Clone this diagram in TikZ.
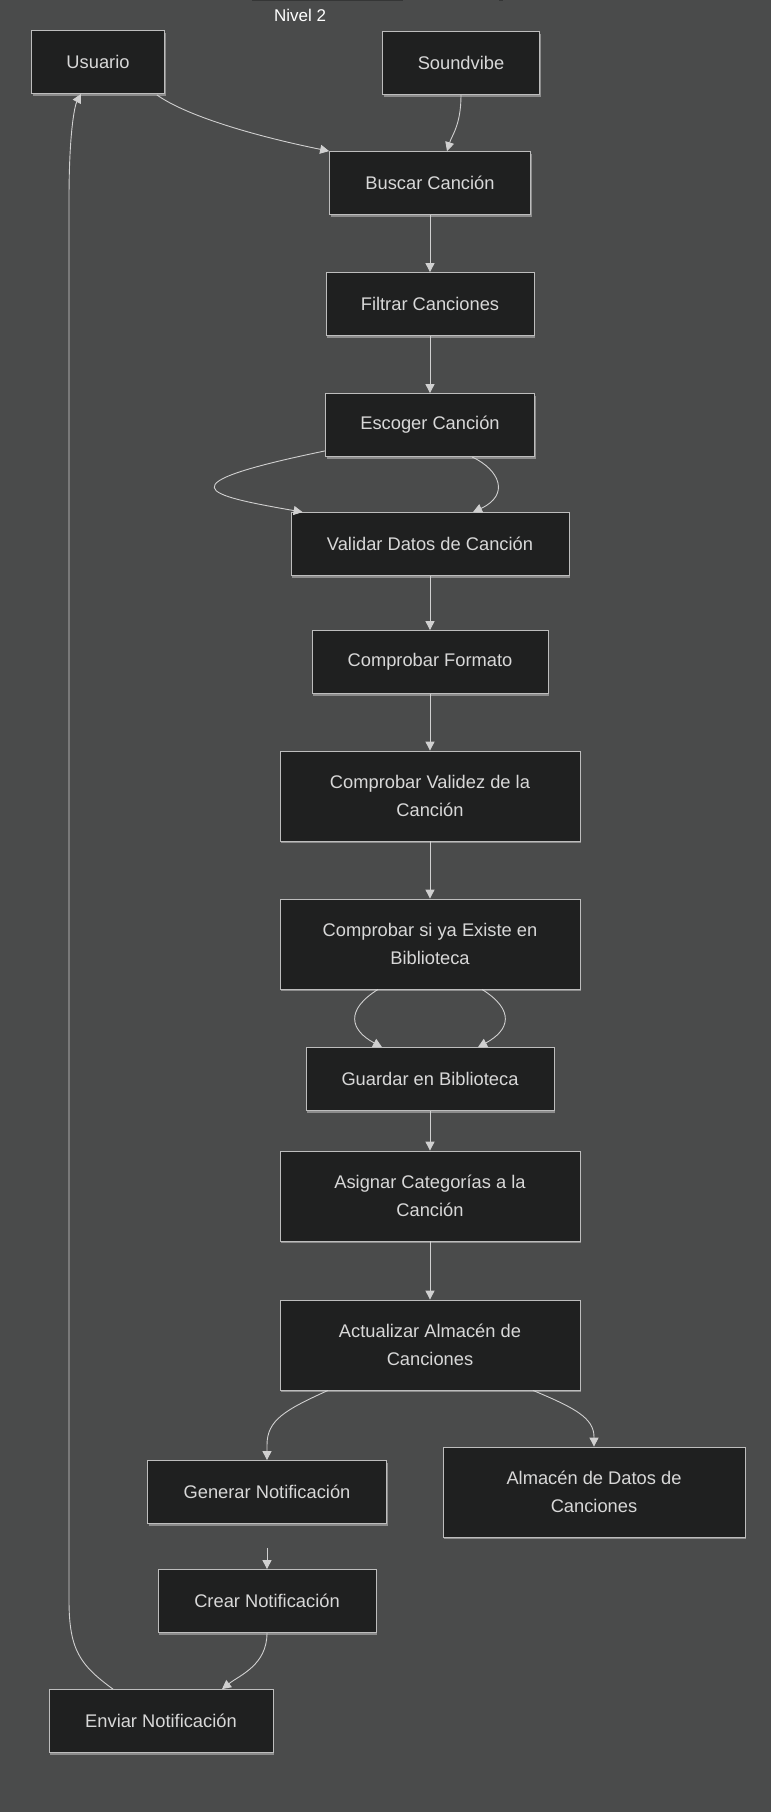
\documentclass[tikz,border=0pt]{standalone}
\usepackage{fontspec}
\setmainfont{Liberation Sans}
\usetikzlibrary{arrows.meta,calc,shadows}
\definecolor{bg}{HTML}{4A4B4B}
\definecolor{nodefill}{HTML}{1F2020}
\definecolor{nodeborder}{HTML}{BDBDBD}
\definecolor{txt}{HTML}{D8D8D8}
\definecolor{edgecol}{HTML}{D0D0D0}
\definecolor{shadowcol}{HTML}{8C8C8C}
\definecolor{topline}{HTML}{353636}
\begin{document}
\begin{tikzpicture}[x=1pt,y=-1pt,
 box/.style={draw=nodeborder, line width=0.8pt, fill=nodefill, text=txt,
   font=\fontsize{18.3}{28}\selectfont, align=center, inner sep=0pt,
   minimum height=63pt,
   general shadow={shadow xshift=1pt, shadow yshift=-2pt, fill=shadowcol}},
 tall/.style={minimum height=90pt},
 edge/.style={draw=edgecol, line width=0.9pt, -{Triangle[length=9pt,width=9pt]}}]
\fill[bg] (0,0) rectangle (771,1812);
\useasboundingbox (0,0) rectangle (771,1812);
\draw[topline, line width=1.2pt] (252,0.6) -- (403,0.6);
\draw[topline, line width=1.2pt] (499,0.6) -- (503,0.6);

\node[text=white, font=\fontsize{17}{20}\selectfont] (title) at (300,15) {Nivel 2};

\node[box, minimum width=133pt] (usuario) at (98,62) {Usuario};
\node[box, minimum width=157pt] (soundvibe) at (461,63) {Soundvibe};
\node[box, minimum width=201pt] (buscar) at (430,183) {Buscar Canción};
\node[box, minimum width=208pt] (filtrar) at (430,304) {Filtrar Canciones};
\node[box, minimum width=209pt] (escoger) at (430,425) {Escoger Canción};
\node[box, minimum width=278pt] (validar) at (430,544) {Validar Datos de Canción};
\node[box, minimum width=236pt] (formato) at (430,662) {Comprobar Formato};
\node[box, tall, minimum width=300pt] (validez) at (430,796) {Comprobar Validez de la\\Canción};
\node[box, tall, minimum width=300pt] (existe) at (430,944) {Comprobar si ya Existe en\\Biblioteca};
\node[box, minimum width=248pt] (guardar) at (430,1079) {Guardar en Biblioteca};
\node[box, tall, minimum width=300pt] (asignar) at (430,1196) {Asignar Categorías a la\\Canción};
\node[box, tall, minimum width=300pt] (actualizar) at (430,1345) {Actualizar Almacén de\\Canciones};
\node[box, minimum width=239pt] (generar) at (267,1492) {Generar Notificación};
\node[box, tall, minimum width=302pt] (almacen) at (594,1492) {Almacén de Datos de\\Canciones};
\node[box, minimum width=218pt] (crear) at (267,1601) {Crear Notificación};
\node[box, minimum width=224pt] (enviar) at (161,1721) {Enviar Notificación};

% Usuario -> Buscar
\draw[edge] ($(usuario.south east)+(-8,1)$) .. controls (185,115) and (250,135) .. (buscar.north west);
% Soundvibe -> Buscar
\draw[edge] (soundvibe.south) .. controls (461,125) and (452,135) .. ($(buscar.north)+(17,0)$);
\draw[edge] (buscar) -- (filtrar);
\draw[edge] (filtrar) -- (escoger);
% Escoger -> Validar (two)
\draw[edge] ($(escoger.south west)+(0,-6)$) .. controls (160,485) and (205,495) .. ($(validar.north west)+(12,0)$);
\draw[edge] ($(escoger.south)+(42,0)$) .. controls (500,470) and (510,495) .. ($(validar.north)+(43,0)$);
\draw[edge] (validar) -- (formato);
\draw[edge] (formato) -- (validez);
\draw[edge] (validez) -- (existe);
% Existe -> Guardar (two)
\draw[edge] ($(existe.south)+(-52,0)$) .. controls (345,1010) and (350,1030) .. ($(guardar.north)+(-48,0)$);
\draw[edge] ($(existe.south)+(52,0)$) .. controls (515,1010) and (510,1030) .. ($(guardar.north)+(48,0)$);
\draw[edge] (guardar) -- (asignar);
\draw[edge] (asignar) -- (actualizar);
% Actualizar -> Generar / Almacen
\draw[edge] ($(actualizar.south)+(-102,0)$) .. controls (285,1410) and (267,1420) .. (267,1445) -- (generar.north);
\draw[edge] ($(actualizar.south)+(103,0)$) .. controls (575,1408) and (594,1418) .. (594,1437) -- (almacen.north);
% Generar -> Crear
\draw[edge, shorten <=24pt] (generar) -- (crear);
% Crear -> Enviar
\draw[edge] (crear.south) .. controls (267,1665) and (240,1675) .. ($(enviar.north)+(61,0)$);
% Enviar -> Usuario
\draw[edge] ($(enviar.north)+(-48,0)$) .. controls (80,1665) and (69,1650) .. (69,1600) -- (69,200) .. controls (69,130) and (75,105) .. ($(usuario.south)+(-17,0)$);
\end{tikzpicture}
\end{document}
